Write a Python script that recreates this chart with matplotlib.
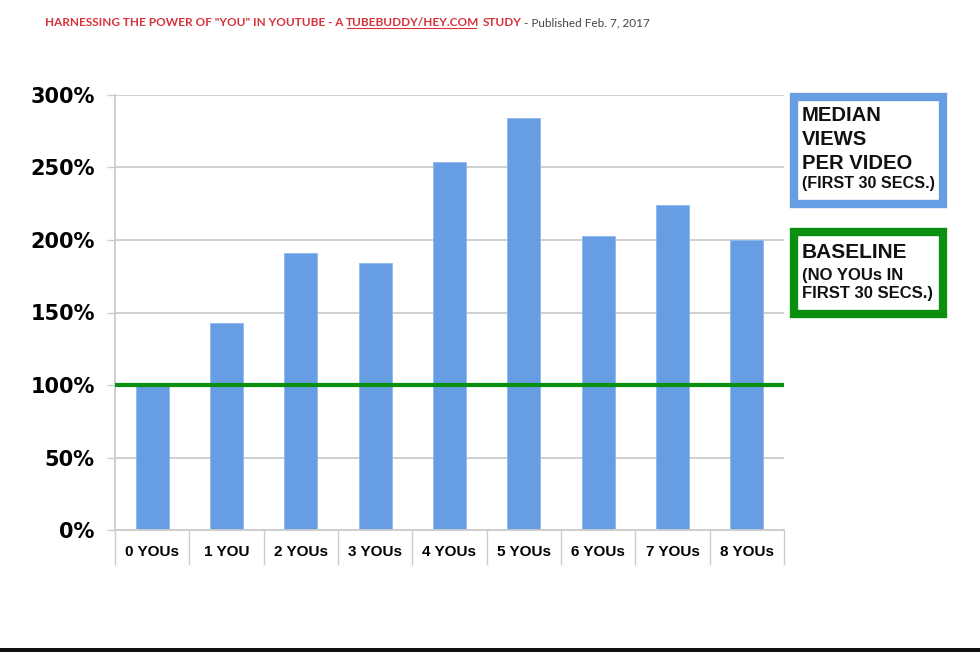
import matplotlib
matplotlib.use("Agg")
import matplotlib.pyplot as plt
from matplotlib.lines import Line2D
from matplotlib.patches import Rectangle

categories = ["0 YOUs", "1 YOU", "2 YOUs", "3 YOUs", "4 YOUs", "5 YOUs", "6 YOUs", "7 YOUs", "8 YOUs"]
median_views = [100, 143, 191, 184, 254, 284, 203, 224, 200]
baseline = 100
yticks = [0, 50, 100, 150, 200, 250, 300]

BLUE = "#679de3"
GREEN = "#0a8f0f"
GRID = "#cccccc"
RED = "#d8323c"

W, H = 980, 652
fig = plt.figure(figsize=(W / 100, H / 100), dpi=100)
fig.patch.set_facecolor("white")

# plot area in pixels: x 115..784, y 95..530 (from top)
ax = fig.add_axes([115 / W, 1 - 530 / H, 669 / W, 435 / H])
x = range(len(categories))
ax.bar(x, median_views, width=0.44, color=BLUE, edgecolor="#8fb8ee", linewidth=0.6, zorder=2)
ax.axhline(baseline, color=GREEN, lw=3, zorder=3)

ax.set_xlim(-0.5, len(categories) - 0.5)
ax.set_ylim(0, 300)
ax.set_yticks(yticks)
ax.set_yticklabels([f"{v}%" for v in yticks], fontsize=15, fontweight="heavy",
                   family=["DejaVu Sans"])
ax.tick_params(axis="y", length=6, width=1, color=GRID, pad=8.5)
ax.yaxis.grid(True, color=GRID, lw=1.3, zorder=0)

ax.set_xticks(list(x))
ax.set_xticklabels(categories, fontsize=11, fontweight="bold",
                   family=["Liberation Sans Narrow", "Liberation Sans", "DejaVu Sans"])
ax.tick_params(axis="x", length=0, pad=11)
ax.set_xticks([i - 0.5 for i in range(len(categories) + 1)], minor=True)
ax.tick_params(axis="x", which="minor", length=25, width=1, color=GRID, direction="out")
ax.set_axisbelow(True)

for s in ["top", "right"]:
    ax.spines[s].set_visible(False)
for s in ["left", "bottom"]:
    ax.spines[s].set_color(GRID)
    ax.spines[s].set_linewidth(1.3)


def px(xp, yp):
    return xp / W, 1 - yp / H


# legend boxes
for (x0, y0, x1, y1, col) in [(790, 93, 947, 208, BLUE), (790, 228, 947, 318, GREEN)]:
    fig.add_artist(Rectangle(px(x0 + 4, y1 - 4), (x1 - x0 - 8) / W, (y1 - y0 - 8) / H,
                             transform=fig.transFigure, facecolor="white",
                             edgecolor=col, linewidth=6))

box_font = ["Liberation Sans", "DejaVu Sans"]
blue_lines = [("MEDIAN", 121, 14.6), ("VIEWS", 145, 14.6), ("PER VIDEO", 169, 14.6),
              ("(FIRST 30 SECS.)", 188, 11.6)]
green_lines = [("BASELINE", 258, 15), ("(NO YOUs IN", 280, 12), ("FIRST 30 SECS.)", 298, 12)]
for txt, yb, fs in blue_lines + green_lines:
    fig.text(*px(802, yb), txt, fontsize=fs, fontweight="bold", family=box_font,
             va="baseline", ha="left", color="#111111")

# title line, built from pieces
fig.canvas.draw()
renderer = fig.canvas.get_renderer()
title_font = ["Lato", "DejaVu Sans"]
fs_title = 8.5
pieces = [("HARNESSING THE POWER OF \"YOU\" IN YOUTUBE - A", RED, "bold", False),
          ("TUBEBUDDY/HEY.COM", RED, "bold", True),
          ("STUDY", RED, "bold", False),
          ("- Published Feb. 7, 2017", "#444444", "normal", False)]
probe1 = fig.text(0, 0, "XX", fontsize=fs_title, family=title_font, fontweight="bold")
probe2 = fig.text(0, 0, "X X", fontsize=fs_title, family=title_font, fontweight="bold")
space = probe2.get_window_extent(renderer).width - probe1.get_window_extent(renderer).width
probe1.remove()
probe2.remove()

xcur, ybase = 45, 26
for txt, col, wt, underline in pieces:
    t = fig.text(*px(xcur, ybase), txt, fontsize=fs_title, family=title_font,
                 fontweight=wt, color=col, va="baseline", ha="left")
    bb = t.get_window_extent(renderer)
    if underline:
        fig.add_artist(Line2D([(xcur + 0.5) / W, (xcur + bb.width - 4) / W],
                              [1 - (ybase + 2) / H] * 2, transform=fig.transFigure,
                              color=col, lw=0.8))
    xcur += bb.width + space

# dark strip at the bottom edge
fig.add_artist(Rectangle((0, 0), 1, 4 / H, transform=fig.transFigure,
                         facecolor="#111111", edgecolor="none"))

fig.savefig("out.png", dpi=100, facecolor="white")
